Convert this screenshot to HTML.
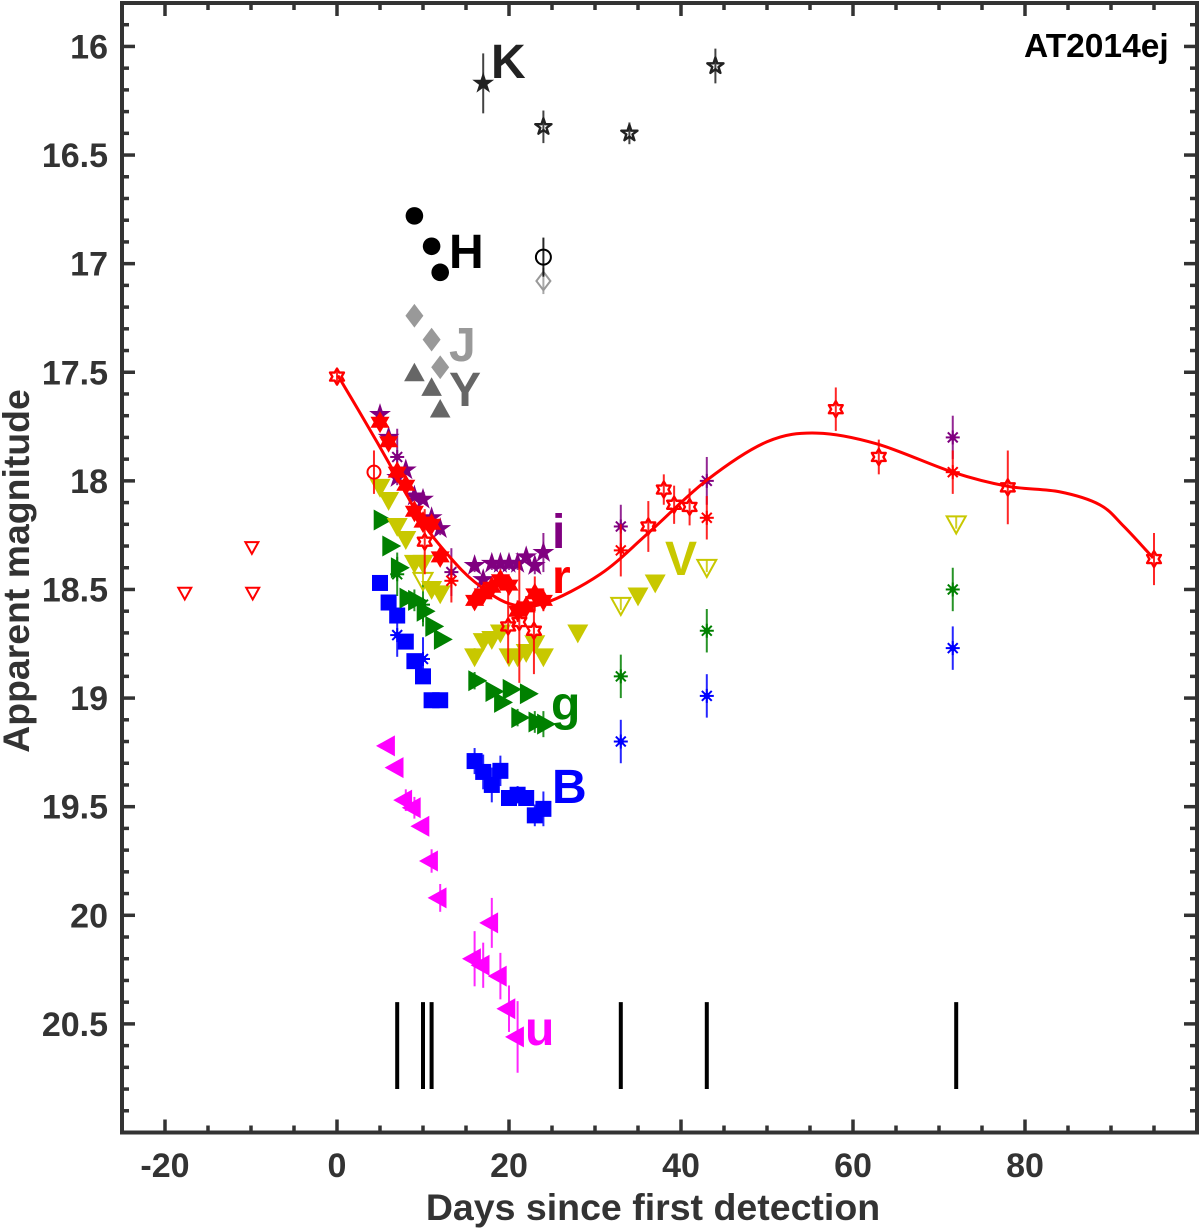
<!DOCTYPE html>
<html lang="en">
<head>
<meta charset="utf-8">
<title>AT2014ej light curve</title>
<style>
html,body{margin:0;padding:0;background:#fff;width:1200px;height:1230px;overflow:hidden}
svg{display:block}
text{font-family:"Liberation Sans",sans-serif;font-weight:bold}
.tick{font-size:34px;fill:#333}
.title{fill:#333}
.band{font-size:48px}
</style>
</head>
<body>
<svg id="chart" xmlns="http://www.w3.org/2000/svg" width="1200" height="1230" viewBox="0 0 1200 1230">
<rect x="0" y="0" width="1200" height="1230" fill="#fff"/>
<g id="marks"></g>
<g id="axes"></g>
<text x="1024" y="57" font-size="33.5" fill="#000">AT2014ej</text>
<text class="band" x="491" y="78" fill="#222">K</text>
<text class="band" x="449" y="268" fill="#000">H</text>
<text class="band" x="449" y="361" fill="#999">J</text>
<text class="band" x="449" y="406" fill="#666">Y</text>
<text class="band" x="552" y="548" fill="#800080">i</text>
<text class="band" x="552" y="593" fill="#f00">r</text>
<text class="band" x="665" y="575" fill="#c8c800">V</text>
<text class="band" x="551" y="720" fill="#008000">g</text>
<text class="band" x="552" y="803" fill="#00f">B</text>
<text class="band" x="525" y="1045" fill="#f0f">u</text>
<text class="title" font-size="37.5" x="653" y="1220" text-anchor="middle">Days since first detection</text>
<text class="title" font-size="37.4" text-anchor="middle" transform="translate(29 571) rotate(-90)">Apparent magnitude</text>
</svg>
<script>
// ---- axis data ----
const xMajorTicks = [-20, 0, 20, 40, 60, 80];
const xMinorTicks = [-15, -10, -5, 5, 10, 15, 25, 30, 35, 45, 50, 55, 65, 70, 75, 85, 90, 95];
const yMajorTicks = [16, 16.5, 17, 17.5, 18, 18.5, 19, 19.5, 20, 20.5];
const yMinorTicks = [15.9, 16.1, 16.2, 16.3, 16.4, 16.6, 16.7, 16.8, 16.9, 17.1, 17.2, 17.3, 17.4, 17.6, 17.7, 17.8, 17.9, 18.1, 18.2, 18.3, 18.4, 18.6, 18.7, 18.8, 18.9, 19.1, 19.2, 19.3, 19.4, 19.6, 19.7, 19.8, 19.9, 20.1, 20.2, 20.3, 20.4, 20.6, 20.7, 20.8, 20.9];
const xTickLabels = ['-20', '0', '20', '40', '60', '80'];
const yTickLabels = ['16', '16.5', '17', '17.5', '18', '18.5', '19', '19.5', '20', '20.5'];
const xLimits = [-25, 100];
const yLimits = [15.8, 21];

// ---- fitted red curve ----
const curveDays = [0.1, 2.5, 5, 7.5, 10, 13, 16, 20, 24, 30.6, 36.2, 43, 50, 55.8, 62.8, 71.6, 78, 84, 88.7, 91.5, 94.9];
const curveMags = [17.515, 17.675, 17.845, 18.02, 18.195, 18.345, 18.465, 18.565, 18.565, 18.43, 18.24, 17.997, 17.82, 17.78, 17.83, 17.96, 18.025, 18.05, 18.11, 18.21, 18.355];

// ---- spectral epochs ----
const spectraDays = [7, 10, 11, 33, 43, 72];
const spectraTop = 20.4;
const spectraBottom = 20.8;

// ---- K band ----
const kFilledDays = [17];
const kFilledMags = [16.17];
const kFilledErrs = [0.138];
const kOpenDays = [24, 34, 44];
const kOpenMags = [16.37, 16.4, 16.09];
const kOpenErrs = [0.075, 0.05, 0.08];

// ---- H band ----
const hFilledDays = [9, 11, 12];
const hFilledMags = [16.78, 16.92, 17.04];
const hOpenDays = [24];
const hOpenMags = [16.97];
const hOpenErrs = [0.09];

// ---- J band ----
const jFilledDays = [9, 11, 12];
const jFilledMags = [17.24, 17.35, 17.477];
const jOpenDays = [24];
const jOpenMags = [17.08];
const jOpenErrs = [0.06];

// ---- Y band ----
const yFilledDays = [9, 11, 12];
const yFilledMags = [17.513, 17.58, 17.68];

// ---- i band ----
const iFilledDays = [5, 6, 7, 8, 9, 10, 11, 12, 16, 17, 18, 19, 20, 21, 22, 23, 24];
const iFilledMags = [17.695, 17.8, 17.985, 17.95, 18.07, 18.085, 18.17, 18.22, 18.39, 18.455, 18.38, 18.38, 18.38, 18.38, 18.35, 18.39, 18.33];
const iFilledErrs = [0.02, 0.02, 0.02, 0.02, 0.02, 0.02, 0.02, 0.03, 0.03, 0.03, 0.03, 0.03, 0.03, 0.03, 0.03, 0.04, 0.09];
const iAstDays = [7, 13.3, 33, 43, 71.6];
const iAstMags = [17.89, 18.42, 18.21, 18.0, 17.8];
const iAstErrs = [0.13, 0.11, 0.1, 0.11, 0.1];

// ---- r band ----
const rFilledDays = [5, 6, 7, 8, 9, 10, 11, 12, 16, 17, 18, 19, 20, 21, 22, 23, 24];
const rFilledMags = [17.73, 17.82, 17.96, 18.02, 18.14, 18.19, 18.2, 18.35, 18.55, 18.52, 18.49, 18.455, 18.48, 18.6, 18.58, 18.52, 18.55];
const rFilledErrs = [0.03, 0.02, 0.02, 0.02, 0.03, 0.03, 0.02, 0.03, 0.03, 0.03, 0.03, 0.03, 0.03, 0.05, 0.05, 0.08, 0.05];
const rOpenDays = [0, 10.2, 19.9, 21.2, 22.9, 36.2, 38, 39.2, 41, 58, 63, 78, 95];
const rOpenMags = [17.52, 18.28, 18.67, 18.65, 18.69, 18.21, 18.04, 18.11, 18.12, 17.67, 17.89, 18.03, 18.36];
const rOpenErrs = [0.03, 0.15, 0.17, 0.28, 0.2, 0.117, 0.07, 0.088, 0.085, 0.1, 0.08, 0.17, 0.12];
const rCircleDays = [4.3];
const rCircleMags = [17.96];
const rCircleErrs = [0.1];
const rAstDays = [13.3, 33, 43, 71.6];
const rAstMags = [18.46, 18.32, 18.17, 17.96];
const rAstErrs = [0.1, 0.12, 0.1, 0.1];
const rLimitDays = [-17.7, -9.9, -9.8];
const rLimitMags = [18.51, 18.3, 18.51];

// ---- V band ----
const vFilledDays = [5, 6, 7, 8, 9, 10, 11, 12, 16, 17, 18, 19, 20, 21, 22, 23, 24, 28, 35, 37];
const vFilledMags = [18.02, 18.08, 18.2, 18.26, 18.37, 18.37, 18.49, 18.51, 18.8, 18.73, 18.72, 18.69, 18.8, 18.8, 18.78, 18.74, 18.8, 18.69, 18.52, 18.46];
const vFilledErrs = [0.02, 0.02, 0.02, 0.02, 0.02, 0.02, 0.02, 0.02, 0.03, 0.02, 0.02, 0.02, 0.02, 0.02, 0.02, 0.02, 0.02, 0.02, 0.02, 0.02];
const vOpenDays = [10, 33, 43, 72];
const vOpenMags = [18.45, 18.565, 18.39, 18.19];
const vOpenErrs = [0.03, 0.03, 0.03, 0.03];

// ---- g band ----
const gFilledDays = [5, 6, 7, 8, 9, 10, 11, 12, 16, 18, 19, 20, 22, 21, 23, 24];
const gFilledMags = [18.18, 18.3, 18.4, 18.54, 18.55, 18.6, 18.67, 18.73, 18.92, 18.97, 19.02, 18.96, 18.98, 19.09, 19.11, 19.12];
const gFilledErrs = [0.02, 0.02, 0.05, 0.03, 0.05, 0.05, 0.03, 0.03, 0.04, 0.03, 0.03, 0.03, 0.03, 0.04, 0.05, 0.06];
const gAstDays = [7, 10, 33, 43, 71.6];
const gAstMags = [18.43, 18.57, 18.9, 18.69, 18.5];
const gAstErrs = [0.1, 0.1, 0.1, 0.1, 0.1];

// ---- B band ----
const bFilledDays = [5, 6, 7, 8, 9, 10, 11, 12, 16, 17, 18, 19, 20, 21, 22, 23, 24];
const bFilledMags = [18.47, 18.56, 18.62, 18.74, 18.83, 18.9, 19.01, 19.01, 19.29, 19.34, 19.4, 19.335, 19.46, 19.445, 19.46, 19.54, 19.51];
const bFilledErrs = [0.02, 0.02, 0.02, 0.02, 0.02, 0.02, 0.03, 0.02, 0.06, 0.08, 0.08, 0.07, 0.03, 0.04, 0.02, 0.05, 0.08];
const bAstDays = [7, 10, 33, 43, 71.6];
const bAstMags = [18.71, 18.82, 19.2, 18.99, 18.77];
const bAstErrs = [0.1, 0.1, 0.1, 0.1, 0.1];

// ---- u band ----
const uFilledDays = [6, 7, 8, 9, 10, 11, 12, 18, 16, 17, 19, 20, 21];
const uFilledMags = [19.22, 19.32, 19.47, 19.505, 19.59, 19.75, 19.92, 20.035, 20.2, 20.23, 20.28, 20.43, 20.56];
const uFilledErrs = [0.02, 0.02, 0.05, 0.05, 0.02, 0.054, 0.064, 0.115, 0.127, 0.104, 0.107, 0.107, 0.165];

// ---- scales ----
const SVGNS = 'http://www.w3.org/2000/svg';
const marks = document.getElementById('marks');
const axes = document.getElementById('axes');
function X(d) { return 122 + (d - xLimits[0]) * (1197 - 122) / (xLimits[1] - xLimits[0]); }
function Y(m) { return 3 + (m - yLimits[0]) * (1132.5 - 3) / (yLimits[1] - yLimits[0]); }

function el(parent, tag, attrs) {
  const e = document.createElementNS(SVGNS, tag);
  for (const k in attrs) e.setAttribute(k, attrs[k]);
  parent.appendChild(e);
  return e;
}

function starPoints(cx, cy, n, R, r) {
  const p = [];
  for (let i = 0; i < 2 * n; i++) {
    const a = -Math.PI / 2 + i * Math.PI / n;
    const q = i % 2 ? r : R;
    p.push((cx + q * Math.cos(a)).toFixed(2) + ',' + (cy + q * Math.sin(a)).toFixed(2));
  }
  return p.join(' ');
}

function drawMarker(g, kind, cx, cy, color, open, size) {
  const fill = open ? 'none' : color;
  const sw = open ? 2 : 0;
  let s = null;
  if (kind === 'penta') {
    s = el(g, 'polygon', { points: starPoints(cx, cy, 5, size, size * 0.382), fill: fill, stroke: color, 'stroke-width': open ? 2.4 : 0, 'stroke-linejoin': 'round' });
  } else if (kind === 'hexa') {
    s = el(g, 'polygon', { points: starPoints(cx, cy, 6, size, size * 0.577), fill: fill, stroke: color, 'stroke-width': open ? 2.4 : 0, 'stroke-linejoin': 'round' });
  } else if (kind === 'circle') {
    s = el(g, 'circle', { cx: cx, cy: cy, r: size, fill: fill, stroke: color, 'stroke-width': sw });
  } else if (kind === 'diamond') {
    s = el(g, 'polygon', { points: [cx, cy - size * 1.32, cx + size, cy, cx, cy + size * 1.32, cx - size, cy].join(' '), fill: fill, stroke: color, 'stroke-width': sw });
  } else if (kind === 'square') {
    s = el(g, 'rect', { x: cx - size, y: cy - size, width: 2 * size, height: 2 * size, fill: fill });
  } else if (kind === 'up') {
    s = el(g, 'polygon', { points: [cx, cy - size * 1.2, cx + size, cy + size * 0.6, cx - size, cy + size * 0.6].join(' '), fill: fill, stroke: color, 'stroke-width': sw });
  } else if (kind === 'down') {
    s = el(g, 'polygon', { points: [cx, cy + size * 1.2, cx + size, cy - size * 0.6, cx - size, cy - size * 0.6].join(' '), fill: fill, stroke: color, 'stroke-width': sw });
  } else if (kind === 'left') {
    s = el(g, 'polygon', { points: [cx - size * 1.2, cy, cx + size * 0.6, cy - size, cx + size * 0.6, cy + size].join(' '), fill: fill });
  } else if (kind === 'right') {
    s = el(g, 'polygon', { points: [cx + size * 1.2, cy, cx - size * 0.6, cy - size, cx - size * 0.6, cy + size].join(' '), fill: fill });
  } else if (kind === 'ast') {
    for (let i = 0; i < 4; i++) {
      const a = i * Math.PI / 4;
      el(g, 'line', { x1: cx - size * Math.sin(a), y1: cy - size * Math.cos(a), x2: cx + size * Math.sin(a), y2: cy + size * Math.cos(a), stroke: color, 'stroke-width': 2 });
    }
    el(g, 'circle', { cx: cx, cy: cy, r: 3.2, fill: color });
  }
  return s;
}

function drawSeries(name, days, mags, errs, kind, color, open, size) {
  const g = document.createElementNS(SVGNS, 'g');
  
  
  marks.appendChild(g);
  days.forEach(function (d, i) {
    const cx = X(d), cy = Y(mags[i]);
    if (errs && errs[i] > 0) {
      const bar = el(g, 'line', { x1: cx, x2: cx, y1: Y(mags[i] - errs[i]), y2: Y(mags[i] + errs[i]), stroke: color, 'stroke-width': 2, 'stroke-opacity': 0.85 });
      
      
    }
    drawMarker(g, kind, cx, cy, color, open, size);
  });
}

// ---- axis box and ticks ----
const TICK = '#333';
function tickLine(x1, y1, x2, y2, w, name) {
  const t = el(axes, 'line', { x1: x1, y1: y1, x2: x2, y2: y2, stroke: TICK, 'stroke-width': w });
  
  
}
const left = X(xLimits[0]), right = X(xLimits[1]), top_ = Y(yLimits[0]), bottom = Y(yLimits[1]);
xMajorTicks.forEach(function (v, i) {
  const x = X(v);
  tickLine(x, bottom, x, bottom - 13, 3.5, 'x-major-tick');
  tickLine(x, top_, x, top_ + 13, 3.5, 'x-major-tick-top');
  const t = el(axes, 'text', { x: x, y: 1177, 'text-anchor': 'middle', class: 'tick' });
  t.textContent = xTickLabels[i];
  
  
});
xMinorTicks.forEach(function (v) {
  const x = X(v);
  tickLine(x, bottom, x, bottom - 7, 3.5, 'x-minor-tick');
  tickLine(x, top_, x, top_ + 7, 3.5, 'x-minor-tick-top');
});
yMajorTicks.forEach(function (v, i) {
  const y = Y(v);
  tickLine(left, y, left + 13, y, 3.5, 'y-major-tick');
  tickLine(right, y, right - 13, y, 3.5, 'y-major-tick-right');
  const t = el(axes, 'text', { x: 108, y: y + 12, 'text-anchor': 'end', class: 'tick' });
  t.textContent = yTickLabels[i];
  
  
});
yMinorTicks.forEach(function (v) {
  const y = Y(v);
  tickLine(left, y, left + 7, y, 3.5, 'y-minor-tick');
  tickLine(right, y, right - 7, y, 3.5, 'y-minor-tick-right');
});
const box = el(axes, 'rect', { x: left, y: top_, width: right - left, height: bottom - top_, fill: 'none', stroke: TICK, 'stroke-width': 4 });



// ---- fit curve (Catmull-Rom through read knots) ----
function curvePath() {
  const pts = curveDays.map(function (d, i) { return [X(d), Y(curveMags[i])]; });
  let s = 'M' + pts[0][0] + ' ' + pts[0][1];
  for (let i = 0; i < pts.length - 1; i++) {
    const p0 = pts[Math.max(i - 1, 0)], p1 = pts[i], p2 = pts[i + 1], p3 = pts[Math.min(i + 2, pts.length - 1)];
    s += ' C' + (p1[0] + (p2[0] - p0[0]) / 6) + ' ' + (p1[1] + (p2[1] - p0[1]) / 6) + ' ' + (p2[0] - (p3[0] - p1[0]) / 6) + ' ' + (p2[1] - (p3[1] - p1[1]) / 6) + ' ' + p2[0] + ' ' + p2[1];
  }
  return s;
}

// ---- draw order follows the reference layering ----
spectraDays.forEach(function (d) {
  const l = el(marks, 'line', { x1: X(d), x2: X(d), y1: Y(spectraTop), y2: Y(spectraBottom), stroke: '#000', 'stroke-width': 4 });
  
  
});

drawSeries('k-band-filled', kFilledDays, kFilledMags, kFilledErrs, 'penta', '#222', false, 11.5);
drawSeries('k-band-open', kOpenDays, kOpenMags, kOpenErrs, 'penta', '#222', true, 8.5);
drawSeries('j-band-filled', jFilledDays, jFilledMags, null, 'diamond', '#999', false, 9);
drawSeries('j-band-open', jOpenDays, jOpenMags, jOpenErrs, 'diamond', '#999', true, 7);
drawSeries('h-band-filled', hFilledDays, hFilledMags, null, 'circle', '#000', false, 8.8);
drawSeries('h-band-open', hOpenDays, hOpenMags, hOpenErrs, 'circle', '#000', true, 7.5);
drawSeries('y-band-filled', yFilledDays, yFilledMags, null, 'up', '#666', false, 10.3);
drawSeries('u-band-filled', uFilledDays, uFilledMags, uFilledErrs, 'left', '#f0f', false, 10.5);
drawSeries('b-band-filled', bFilledDays, bFilledMags, bFilledErrs, 'square', '#00f', false, 8);
drawSeries('b-band-asterisk', bAstDays, bAstMags, bAstErrs, 'ast', '#00f', false, 7);
drawSeries('g-band-filled', gFilledDays, gFilledMags, gFilledErrs, 'right', '#008000', false, 10.5);
drawSeries('g-band-asterisk', gAstDays, gAstMags, gAstErrs, 'ast', '#008000', false, 7);
drawSeries('v-band-filled', vFilledDays, vFilledMags, vFilledErrs, 'down', '#c8c800', false, 10.5);
drawSeries('v-band-open', vOpenDays, vOpenMags, vOpenErrs, 'down', '#c8c800', true, 9.5);
drawSeries('i-band-filled', iFilledDays, iFilledMags, iFilledErrs, 'penta', '#800080', false, 11.5);
drawSeries('i-band-asterisk', iAstDays, iAstMags, iAstErrs, 'ast', '#800080', false, 7);

const curve = el(marks, 'path', { d: curvePath(), fill: 'none', stroke: '#f00', 'stroke-width': 3 });



drawSeries('r-band-filled', rFilledDays, rFilledMags, rFilledErrs, 'hexa', '#f00', false, 11);
drawSeries('r-band-open', rOpenDays, rOpenMags, rOpenErrs, 'hexa', '#f00', true, 8);
drawSeries('r-band-circle', rCircleDays, rCircleMags, rCircleErrs, 'circle', '#f00', true, 6.5);
drawSeries('r-band-asterisk', rAstDays, rAstMags, rAstErrs, 'ast', '#f00', false, 7);
drawSeries('r-band-upper-limits', rLimitDays, rLimitMags, null, 'down', '#f00', true, 6.5);
</script>
</body>
</html>
